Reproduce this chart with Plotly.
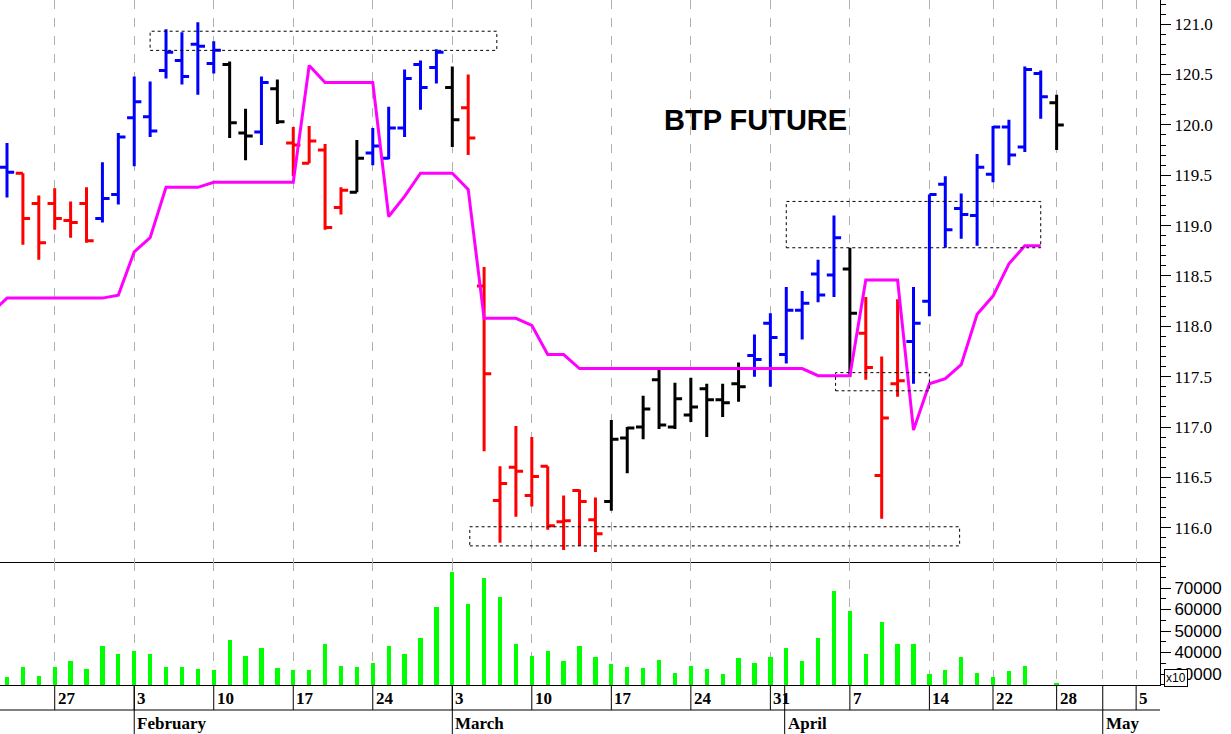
import plotly.graph_objects as go
from plotly.subplots import make_subplots

# trading-day index 0 = Jan 22
idx = list(range(67))
opens = [119.58,119.52,119.22,119.22,119.05,119.22,119.07,119.31,120.07,120.08,
         120.54,120.64,120.80,120.61,120.60,119.92,119.93,120.36,119.82,119.62,
         119.75,119.18,119.33,119.72,119.67,119.97,120.60,120.57,120.37,120.17,
         118.40,116.27,116.60,116.32,116.61,116.06,116.37,116.08,116.26,116.89,
         117.00,117.47,117.00,117.12,117.38,117.27,117.43,117.71,118.03,117.72,
         118.16,118.52,118.51,118.57,117.93,116.52,117.43,117.85,118.25,119.41,
         119.17,119.10,119.51,119.98,119.78,120.51,120.22]
highs = [119.82,119.52,119.30,119.37,119.24,119.38,119.63,119.92,120.48,120.43,
         120.95,120.92,121.02,120.83,120.63,120.16,120.48,120.45,119.98,119.99,
         119.81,119.38,119.85,119.97,120.18,120.55,120.64,120.75,120.58,120.50,
         118.59,116.61,117.01,116.90,116.61,116.32,116.38,116.30,117.07,117.00,
         117.31,117.57,117.44,117.49,117.43,117.43,117.64,117.92,118.13,118.39,
         118.35,118.66,119.10,118.78,118.29,117.70,118.27,118.39,119.31,119.49,
         119.32,119.71,119.99,120.05,120.58,120.54,120.30]
lows = [119.28,118.81,118.66,118.96,118.88,118.83,119.03,119.21,119.59,119.88,
        120.46,120.40,120.30,120.51,119.87,119.65,119.80,120.01,119.49,119.62,
        118.96,119.11,119.33,119.60,119.66,119.88,120.15,120.41,119.78,119.70,
        116.76,115.85,116.11,116.21,115.98,115.78,115.82,115.76,116.17,116.54,
        116.88,116.98,116.98,117.05,116.90,117.10,117.25,117.50,117.40,117.63,
        117.87,118.24,118.29,117.50,117.47,116.09,117.30,117.43,118.10,118.78,
        118.87,118.80,119.43,119.60,119.73,120.06,119.75]
closes = [119.53,119.07,118.83,119.07,119.03,118.85,119.27,119.88,120.23,119.94,
          120.72,120.48,120.78,120.74,120.02,119.89,120.42,120.03,119.80,119.84,
          118.98,119.35,119.67,119.79,119.97,120.46,120.37,120.72,120.05,119.87,
          117.53,116.44,116.56,116.51,116.02,116.07,116.26,115.94,116.88,116.99,
          117.18,117.02,117.28,117.20,117.27,117.24,117.40,117.67,117.89,118.16,
          118.23,118.31,118.88,118.13,117.59,117.09,117.46,118.03,119.31,118.96,
          119.11,119.58,119.98,119.70,120.55,120.28,120.00]
colors = (["blue"] + ["red"]*5 + ["blue"]*8 + ["black","black","blue","black"] + ["red"]*4
          + ["black"] + ["blue"]*5 + ["black"] + ["red"]*9 + ["black"]*9 + ["blue"]*6
          + ["black"] + ["red"]*3 + ["blue"]*9 + ["black"])
line_x = list(range(-1, 67))
line_y = [118.13] + [118.28]*7 + [118.31,118.74,118.88,119.38,119.38,119.38] + [119.43]*6 + \
         [120.59,120.42,120.42,120.42,120.42,119.09,119.29,119.52,119.52,119.52,119.36,
          118.08,118.08,118.08,118.01,117.72,117.72] + [117.58]*15 + \
         [117.51,117.51,117.51,118.46,118.46,118.46,116.97,117.43,117.48,117.62,
          118.12,118.30,118.62,118.80,118.80]
volume = [28465,33116,29209,33116,36047,32186,43163,39162,40697,39162,
          33116,33116,32186,31860,45813,38512,41953,32651,31860,31860,
          43814,33860,33116,35256,43163,39162,46604,61022,77580,62558,
          74510,65953,43814,38512,40697,36047,43163,37767,34600,33116,
          32651,36512,30605,33860,32186,29860,37302,34977,37767,41953,
          36047,46604,68605,59302,39162,54046,43814,43814,29860,31860,
          37767,30605,28465,31395,33860,24558,25954]
tick_idx = [3, 8, 13, 18, 23, 28, 33, 38, 43, 48, 53, 58, 62, 66, 71]
tick_txt = ["27","3","10","17","24","3","10","17","24","31","7","14","22","28","5"]
month_idx = [8, 28, 48.9, 68.9]
month_txt = ["February", "March", "April", "May"]
vol_ticks = [30000, 40000, 50000, 60000, 70000]
boxes = [(9.0, 30.8, 120.74, 120.93), (29.1, 59.9, 115.82, 116.01),
         (49.0, 65.0, 118.78, 119.24), (52.1, 58.0, 117.36, 117.54)]

W, H = 1231, 734
R_EDGE, BOT = 1160, 685
XMIN, XMAX = -0.44, 72.5
split = (BOT - 562) / BOT

fig = make_subplots(rows=2, cols=1, shared_xaxes=True, vertical_spacing=0,
                    row_heights=[1 - split, split])
for c in ["blue", "red", "black"]:
    sel = [i for i in idx if colors[i] == c]
    fig.add_trace(go.Ohlc(x=sel, open=[opens[i] for i in sel], high=[highs[i] for i in sel],
                          low=[lows[i] for i in sel], close=[closes[i] for i in sel],
                          increasing=dict(line=dict(color=c, width=3)),
                          decreasing=dict(line=dict(color=c, width=3)),
                          tickwidth=0.45, hoverinfo="skip", showlegend=False), row=1, col=1)
fig.add_trace(go.Scatter(x=line_x, y=line_y, mode="lines", line=dict(color="#FF00FF", width=3),
                         showlegend=False), row=1, col=1)
fig.add_trace(go.Bar(x=idx, y=volume, base=0, width=0.27, marker_color="#00FF00",
                     marker_line_width=0, showlegend=False), row=2, col=1)

for (x0, x1, y0, y1) in boxes:
    fig.add_shape(type="rect", xref="x", yref="y", x0=x0, x1=x1, y0=y0, y1=y1,
                  line=dict(color="black", width=1, dash="dot"), layer="above")

def py(px):
    return (BOT - px) / BOT

fig.add_shape(type="line", xref="paper", yref="paper", x0=0, x1=1,
              y0=py(710), y1=py(710), line=dict(color="black", width=1))
for t, s in zip(tick_idx, tick_txt):
    fig.add_shape(type="line", xref="x2", yref="paper", x0=t, x1=t, y0=py(685), y1=py(710),
                  line=dict(color="black", width=1))
    fig.add_annotation(x=t, xref="x2", y=py(698), yref="paper", text="<b>%s</b>" % s,
                       showarrow=False, xanchor="left", yanchor="middle", xshift=1,
                       font=dict(family="Liberation Serif", size=17, color="black"))
for m, s in zip(month_idx, month_txt):
    fig.add_shape(type="line", xref="x2", yref="paper", x0=m, x1=m, y0=py(685), y1=py(734),
                  line=dict(color="black", width=1))
    fig.add_annotation(x=m, xref="x2", y=py(723), yref="paper", text="<b>%s</b>" % s,
                       showarrow=False, xanchor="left", yanchor="middle", xshift=1,
                       font=dict(family="Liberation Serif", size=17, color="black"))

fig.add_annotation(x=755 / R_EDGE, xref="paper", y=py(120), yref="paper",
                   text="<b>BTP FUTURE</b>", showarrow=False, xanchor="center", yanchor="middle",
                   font=dict(family="Liberation Sans", size=29, color="black"))
fig.add_annotation(x=1176 / R_EDGE, xref="paper", y=py(678), yref="paper", text="x10",
                   showarrow=False, xanchor="center", yanchor="middle",
                   bordercolor="black", borderwidth=1, borderpad=1,
                   bgcolor="white", font=dict(family="Liberation Sans", size=12, color="black"))

grid = dict(showgrid=True, gridcolor="#b0b0b0", griddash="dash", gridwidth=1,
            tickvals=tick_idx + [68.9], showticklabels=False, ticks="", zeroline=False,
            range=[XMIN, XMAX], rangeslider=dict(visible=False),
            showline=True, linecolor="black", linewidth=1)
fig.update_xaxes(**grid)

fig.update_yaxes(side="right", range=[115.66, 121.24], tickvals=[116 + 0.5 * k for k in range(11)],
                 ticktext=["%.1f" % (116 + 0.5 * k) for k in range(11)], ticks="outside",
                 ticklen=10, tickcolor="black", showgrid=False, zeroline=False,
                 showline=True, linecolor="black",
                 minor=dict(dtick=0.1, ticks="outside", ticklen=5, tickcolor="black"),
                 tickfont=dict(family="Liberation Serif", size=17, color="black"),
                 row=1, col=1)
fig.update_yaxes(side="right", range=[24884, 82093], tickvals=vol_ticks,
                 ticktext=[str(v) for v in vol_ticks],
                 ticks="outside", ticklen=10, tickcolor="black", showgrid=False, zeroline=False,
                 showline=True, linecolor="black",
                 minor=dict(dtick=5000, ticks="outside", ticklen=5, tickcolor="black"),
                 tickfont=dict(family="Liberation Sans", size=17, color="black"),
                 row=2, col=1)

fig.update_layout(width=W, height=H, margin=dict(l=0, r=W - R_EDGE, t=0, b=H - BOT),
                  paper_bgcolor="white", plot_bgcolor="white", bargap=0, showlegend=False)
fig.write_html("out.html", config={"displayModeBar": False},
               post_script="document.body.style.margin='0';")
